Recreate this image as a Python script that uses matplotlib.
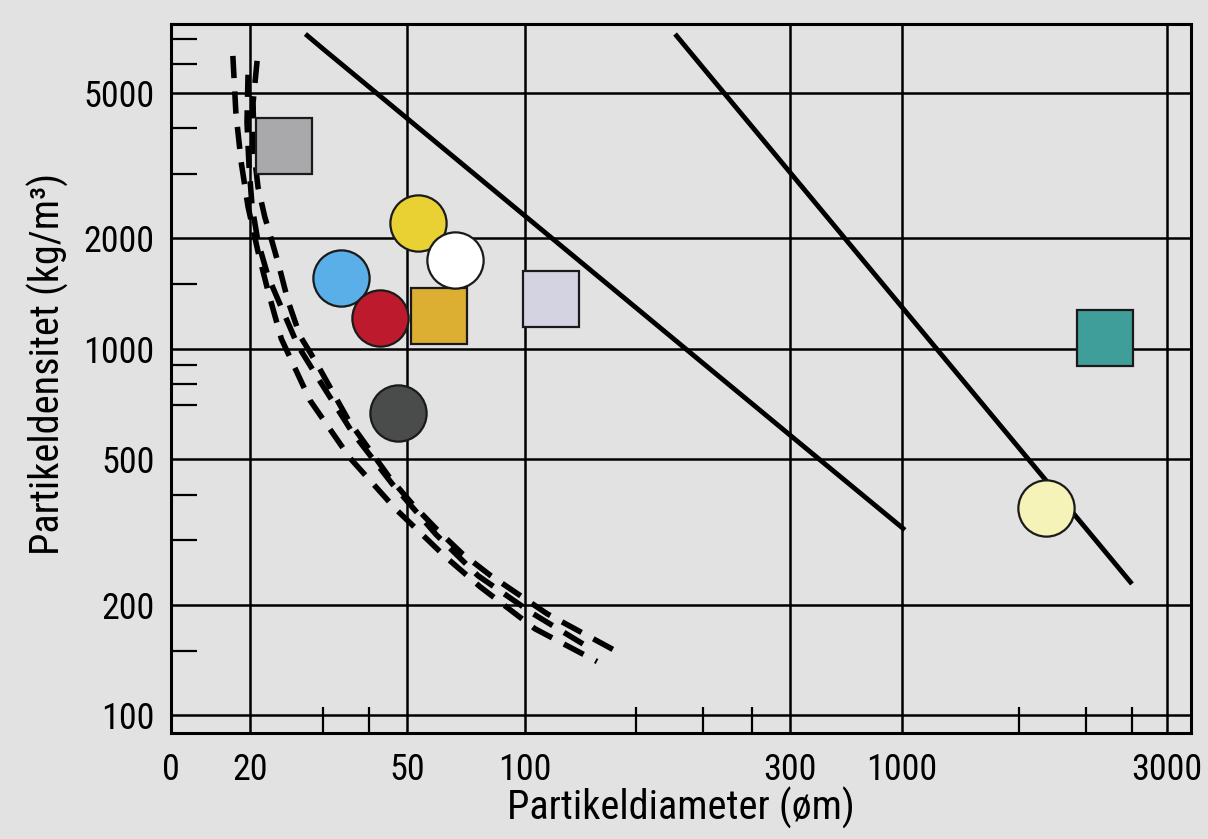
"""Partikeldensitet vs partikeldiameter - schematic log/log chart."""
import numpy as np
import matplotlib
matplotlib.use("Agg")
import matplotlib.pyplot as plt
from matplotlib import font_manager
from matplotlib.ticker import NullFormatter

# ---- data ----
x_ticks = [10, 20, 50, 100, 300, 1000, 3000]
x_tick_labels = ["0", "20", "50", "100", "300", "1000", "3000"]
x_minor = [30, 40, 150, 200, 250, 1500, 2000, 2500]
y_ticks = [100, 200, 500, 1000, 2000, 5000]
y_minor = [150, 300, 400, 700, 800, 900, 1500, 3000, 4000, 6000, 7000]

# solid lines (diameter, density)
line1_d = [27.2, 30, 40, 50, 100, 150, 200, 250, 300, 1000, 1010]
line1_rho = [7230, 6585, 5185, 4256, 2304, 1294, 913, 708, 581, 325, 320]
line2_d = [177.4, 200, 250, 300, 1000, 1500, 2000, 2500]
line2_rho = [7230, 5850, 4040, 3030, 1299, 536, 323, 228]

# dashed curves
dash1_d = [17.2, 17.66, 18.5, 19.65, 20.9, 22.1, 23.8, 27.9, 35.5, 46.9, 62.5, 76.8, 103.7, 130.1]
dash1_rho = [6300, 4416, 3232, 2441, 1843, 1436, 1064, 723, 503, 364, 271, 224, 172, 140]
dash2_d = [19.65, 19.47, 19.83, 20.23, 20.9, 22.1, 24.0, 26.1, 28.9, 36.0, 45.8, 59.3, 75.9, 103, 125.4]
dash2_rho = [5598, 4148, 3132, 2441, 1962, 1577, 1268, 1019, 845, 592, 428, 311, 240, 189, 154]
dash3_d = [20.8, 20.34, 20.45, 20.9, 21.7, 22.6, 23.5, 24.7, 26.4, 28.9, 35.3, 45.2, 51.8, 59.6,
           69.1, 81.4, 108.4, 139.9]
dash3_rho = [6108, 4700, 3440, 2765, 2293, 1962, 1678, 1349, 1084, 916, 634, 444, 375, 321,
             276, 241, 189, 149]

# particles: diameter, density, marker, colour (drawing order)
particle_d = [24.2, 33.6, 42.7, 53.4, 60.3, 66.3, 47.4, 110, 2193, 1683]
particle_rho = [3576, 1560, 1213, 2204, 1228, 1747, 668, 1367, 1070, 367]
particle_marker = ["s", "o", "o", "o", "s", "o", "o", "s", "s", "o"]
particle_color = ["#a9a9ab", "#5aafe8", "#be1a2e", "#e9d134", "#dcae32", "#ffffff",
                  "#4a4c4b", "#d4d3e1", "#3f9e9a", "#f6f3b8"]

# the printed x axis is not a clean log axis: breakpoints of its spacing
scale_vals = [10, 20, 30, 40, 50, 100, 150, 200, 250, 300, 1000, 1500, 2000, 2500, 3000, 3300]
scale_pos = [171, 250, 323, 369, 407, 525, 636, 703, 752, 790, 902, 1019, 1086, 1132, 1167, 1191]
scale_logs = np.log10(scale_vals)


def fwd(x):
    x = np.asarray(x, dtype=float)
    return np.interp(np.log10(np.clip(x, 1e-6, None)), scale_logs, scale_pos)


def inv(p):
    return 10 ** np.interp(np.asarray(p, dtype=float), scale_pos, scale_logs)


available = {f.name for f in font_manager.fontManager.ttflist}
family = next((f for f in ["Liberation Sans Narrow", "Roboto Condensed", "Open Sans"]
               if f in available), "DejaVu Sans")
plt.rcParams["font.family"] = [family, "DejaVu Sans"]

BG = "#e2e2e2"
fig = plt.figure(figsize=(12.08, 8.39), dpi=100, facecolor=BG)
ax = fig.add_axes([0.1416, 0.1267, 0.8443, 0.8447], facecolor=BG)
ax.set_xscale("function", functions=(fwd, inv))
ax.set_yscale("log")
ax.set_xlim(10, 3300)
ax.set_ylim(89.5, 7700)

for d, rho in [(dash1_d, dash1_rho), (dash2_d, dash2_rho), (dash3_d, dash3_rho)]:
    ax.plot(d, rho, color="black", lw=4.0, dashes=(4.0, 2.4), dash_capstyle="butt", zorder=3)
ax.plot(line1_d, line1_rho, color="black", lw=3.5, solid_capstyle="butt", zorder=3)
ax.plot(line2_d, line2_rho, color="black", lw=3.5, solid_capstyle="butt", zorder=3)

for d, rho, m, c in zip(particle_d, particle_rho, particle_marker, particle_color):
    ax.plot([d], [rho], marker=m, ms=41 if m == "s" else 40.5, mfc=c, mec="#1a1a1a",
            mew=1.6, ls="none", zorder=4)

ax.set_xticks(x_ticks, labels=x_tick_labels)
ax.set_xticks(x_minor, minor=True)
ax.set_yticks(y_ticks, labels=[str(v) for v in y_ticks])
ax.set_yticks(y_minor, minor=True)
ax.xaxis.set_minor_formatter(NullFormatter())
ax.yaxis.set_minor_formatter(NullFormatter())

ax.grid(which="major", color="black", lw=1.8)
ax.set_axisbelow(True)
ax.tick_params(which="major", length=0, labelsize=26, colors="black")
ax.tick_params(axis="x", which="major", pad=14)
ax.tick_params(axis="y", which="major", pad=12)
ax.tick_params(which="minor", direction="in", length=19, width=1.6, color="black")
for s in ax.spines.values():
    s.set_linewidth(2.2)
    s.set_color("black")

ax.set_xlabel("Partikeldiameter (øm)", fontsize=29)
ax.set_ylabel("Partikeldensitet (kg/m³)", fontsize=29)
ax.xaxis.set_label_coords(0.5, -0.077)
ax.yaxis.set_label_coords(-0.10, 0.52)

fig.savefig("out.png", dpi=100, facecolor=BG)
